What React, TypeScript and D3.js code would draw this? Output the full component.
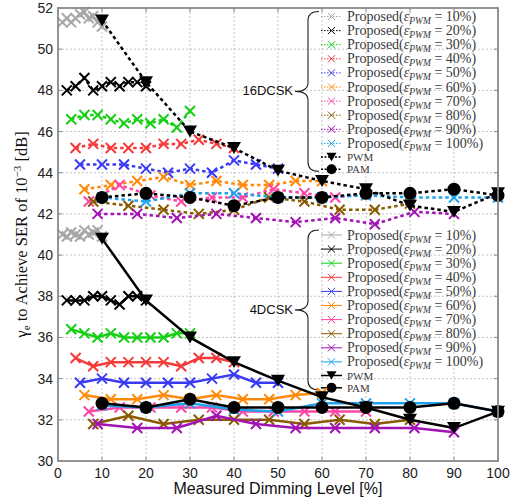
import React from 'react';
import * as d3 from 'd3';

// ε_PWM levels and the step index of each measured point (x = ε·k/10)
const epsLevels = [10, 20, 30, 40, 50, 60, 70, 80, 90, 100];
const steps = [1, 2, 3, 4, 5, 6, 7, 8, 9, 10];
const benchX = [10, 20, 30, 40, 50, 60, 70, 80, 90, 100];

const colors = ['#a8a8a8', '#000000', '#16cf16', '#f53a3a', '#3a3af5', '#ff8a0a', '#ff45a6', '#8a5a00', '#a312b5', '#1ea2ee'];

// 16DCSK (dotted)
const top10 = [51.3, 51.5, 51.3, 51.5, 51.7, 51.8, 51.5, 51.6, 51.3, 51.1];
const top20 = [48.0, 48.2, 48.6, 48.0, 48.2, 48.4, 48.2, 48.4, 48.4, 48.2];
const top30 = [46.6, 46.8, 46.8, 46.6, 46.4, 46.6, 46.4, 46.6, 46.2, 47.0];
const top40 = [45.2, 45.4, 45.2, 45.2, 45.2, 45.4, 45.4, 45.6, 45.4, 45.2];
const top50 = [44.4, 44.4, 44.4, 44.2, 44.0, 44.2, 44.0, 44.6, 44.4, 44.2];
const top60 = [43.2, 43.4, 43.6, 43.8, 43.4, 43.6, 43.4, 43.4, 43.6, 43.6];
const top70 = [42.6, 43.4, 42.9, 42.6, 42.8, 42.8, 43.2, 43.0, 42.8, 43.0];
const top80 = [42.6, 42.4, 42.2, 42.0, 42.2, 42.8, 42.6, 42.2, 42.2, 42.5];
const top90 = [42.0, 42.0, 41.8, 42.0, 41.8, 41.6, 41.8, 41.5, 42.1, 42.0];
const top100 = [42.8, 42.6, 43.0, 43.0, 42.8, 42.8, 42.9, 42.8, 42.8, 42.8];
const topPWM = [51.4, 48.4, 46.0, 45.2, 44.1, 43.6, 43.2, 42.4, 42.1, 43.0];
const topPAM = [42.8, 43.0, 42.8, 42.4, 42.8, 42.8, 43.0, 43.0, 43.2, 42.9];

// 4DCSK (solid)
const bot10 = [41.0, 40.9, 41.1, 41.0, 40.9, 41.2, 41.0, 41.1, 41.2, 40.9];
const bot20 = [37.8, 37.8, 37.8, 38.0, 38.0, 37.8, 37.6, 38.0, 38.0, 37.8];
const bot30 = [36.4, 36.2, 36.0, 36.2, 36.0, 36.0, 36.0, 36.0, 36.2, 36.2];
const bot40 = [35.0, 34.6, 34.8, 34.8, 34.8, 34.8, 34.6, 35.0, 35.0, 34.8];
const bot50 = [33.8, 34.0, 33.8, 33.8, 33.8, 33.8, 34.0, 34.2, 33.8, 33.8];
const bot60 = [33.2, 33.0, 33.0, 33.2, 33.0, 33.2, 33.0, 33.0, 33.2, 33.3];
const bot70 = [32.4, 32.6, 32.6, 32.6, 32.6, 32.4, 32.4, 32.4, 32.4, 32.4];
const bot80 = [31.8, 32.2, 31.8, 32.0, 32.0, 32.0, 31.8, 32.0, 31.8, 32.0];
const bot90 = [31.8, 31.6, 31.6, 32.2, 31.8, 31.6, 31.6, 31.6, 31.6, 31.4];
const bot100 = [32.7, 32.6, 32.8, 32.5, 32.4, 32.8, 32.8, 32.8, 32.8, 32.4];
const botPWM = [40.8, 37.8, 36.0, 34.8, 33.9, 33.1, 32.6, 32.0, 31.6, 32.4];
const botPAM = [32.8, 32.6, 33.0, 32.6, 32.6, 32.6, 32.6, 32.6, 32.8, 32.4];

const topSeries = [top10, top20, top30, top40, top50, top60, top70, top80, top90, top100];
const botSeries = [bot10, bot20, bot30, bot40, bot50, bot60, bot70, bot80, bot90, bot100];

const xTicks = [0, 10, 20, 30, 40, 50, 60, 70, 80, 90, 100];
const yTicks = [30, 32, 34, 36, 38, 40, 42, 44, 46, 48, 50, 52];

const W = 520, H = 503;
const x = d3.scaleLinear().domain([0, 100]).range([58, 498]);
const y = d3.scaleLinear().domain([30, 52]).range([461, 8]);
const line = d3.line<[number, number]>().x(d => x(d[0])).y(d => y(d[1]));

const DOT = '3.5,3';
const SERIF = 'Liberation Serif, serif';
const SANS = 'Liberation Sans, Arial, sans-serif';

const Cross = ({ cx, cy, c, s = 5, w = 2 }: any) =>
  <path d={`M${cx - s},${cy - s}L${cx + s},${cy + s}M${cx - s},${cy + s}L${cx + s},${cy - s}`} stroke={c} strokeWidth={w} />;
const Tri = ({ cx, cy, s = 7 }: any) =>
  <path d={`M${cx - s},${cy - s * 0.85}L${cx + s},${cy - s * 0.85}L${cx},${cy + s * 0.85}Z`} fill="#000" />;

function brace(xs: number, y0: number, y1: number, tipX: number) {
  const ym = (y0 + y1) / 2, w = 11, r = 9;
  return `M${xs + w},${y0} Q${xs},${y0} ${xs},${y0 + r} L${xs},${ym - r} Q${xs},${ym} ${tipX},${ym} Q${xs},${ym} ${xs},${ym + r} L${xs},${y1 - r} Q${xs},${y1} ${xs + w},${y1}`;
}

function Panel({ series, pwm, pam, dash }: any) {
  return (
    <g>
      {series.map((vals: number[], i: number) => {
        const pts: [number, number][] = vals.map((v, k) => [epsLevels[i] * steps[k] / 10, v]);
        return (
          <g key={i}>
            <path d={line(pts) || ''} fill="none" stroke={colors[i]} strokeWidth={2.5} strokeDasharray={dash} />
            {pts.map((p, k) => <Cross key={k} cx={x(p[0])} cy={y(p[1])} c={colors[i]} />)}
          </g>
        );
      })}
      <path d={line(benchX.map((b, k) => [b, pwm[k]] as [number, number])) || ''} fill="none" stroke="#000" strokeWidth={2.5} strokeDasharray={dash} />
      {benchX.map((b, k) => <Tri key={k} cx={x(b)} cy={y(pwm[k])} />)}
      <path d={line(benchX.map((b, k) => [b, pam[k]] as [number, number])) || ''} fill="none" stroke="#000" strokeWidth={2.5} strokeDasharray={dash} />
      {benchX.map((b, k) => <circle key={k} cx={x(b)} cy={y(pam[k])} r={6.5} fill="#000" />)}
    </g>
  );
}

function Legend({ y0, dash, label, labelY }: any) {
  const rows = epsLevels.map((_, i) => y0 + i * 14.1);
  const pwmY = rows[9] + 13.6;
  const pamY = pwmY + 12.3;
  return (
    <g>
      <text x={293} y={labelY} textAnchor="end" fontFamily={SANS} fontSize={13} fill="#111">{label}</text>
      <path d={brace(308, y0 - 5, pamY + 2, 295)} fill="none" stroke="#222" strokeWidth={1.1} />
      {epsLevels.map((e, i) => (
        <g key={e}>
          <line x1={321} x2={342} y1={rows[i]} y2={rows[i]} stroke={colors[i]} strokeWidth={1} strokeDasharray={dash ? '1.5,1.5' : undefined} />
          <Cross cx={331.5} cy={rows[i]} c={colors[i]} s={3.6} w={1} />
          <text x={347} y={rows[i] + 4.5} fontFamily={SERIF} fontSize={14} fill="#3a3a3a">
            Proposed(<tspan fontStyle="italic">ε</tspan><tspan fontStyle="italic" fontSize={9.5} dy={3}>PWM</tspan><tspan dy={-3}>{' = '}{e}%)</tspan>
          </text>
        </g>
      ))}
      <line x1={321} x2={342} y1={pwmY} y2={pwmY} stroke="#000" strokeWidth={1.5} strokeDasharray={dash ? '2,1.5' : undefined} />
      <Tri cx={331.5} cy={pwmY} s={5} />
      <text x={347} y={pwmY + 4} fontFamily={SERIF} fontSize={11} fill="#3a3a3a">PWM</text>
      <line x1={321} x2={342} y1={pamY} y2={pamY} stroke="#000" strokeWidth={1.5} strokeDasharray={dash ? '2,1.5' : undefined} />
      <circle cx={331.5} cy={pamY} r={5} fill="#000" />
      <text x={347} y={pamY + 4} fontFamily={SERIF} fontSize={11} fill="#3a3a3a">PAM</text>
    </g>
  );
}

export default function App() {
  const [x0, x1] = x.range();
  const [yb, yt] = y.range();
  return (
    <svg width={W} height={H} style={{ position: 'absolute', left: 0, top: 0, background: '#fff' }}>
      {/* grid */}
      {xTicks.slice(1, -1).map(t => <line key={'gx' + t} x1={x(t)} x2={x(t)} y1={yt} y2={yb} stroke="#b5b5b5" strokeWidth={0.8} strokeDasharray="2,2" />)}
      {yTicks.slice(1, -1).map(t => <line key={'gy' + t} x1={x0} x2={x1} y1={y(t)} y2={y(t)} stroke="#b5b5b5" strokeWidth={0.8} strokeDasharray="2,2" />)}
      {/* ticks */}
      {xTicks.map(t => <g key={'tx' + t}>
        <line x1={x(t)} x2={x(t)} y1={yb} y2={yb - 4} stroke="#888" strokeWidth={1} />
        <line x1={x(t)} x2={x(t)} y1={yt} y2={yt + 4} stroke="#888" strokeWidth={1} />
        <text x={x(t)} y={478} textAnchor="middle" fontFamily={SANS} fontSize={14} fill="#222">{t}</text>
      </g>)}
      {yTicks.map(t => <g key={'ty' + t}>
        <line x1={x0} x2={x0 + 4} y1={y(t)} y2={y(t)} stroke="#888" strokeWidth={1} />
        <line x1={x1} x2={x1 - 4} y1={y(t)} y2={y(t)} stroke="#888" strokeWidth={1} />
        <text x={53} y={y(t) + 5} textAnchor="end" fontFamily={SANS} fontSize={14} fill="#222">{t}</text>
      </g>)}

      <Legend y0={16.5} dash label="16DCSK" labelY={95} />
      <Legend y0={235} dash={false} label="4DCSK" labelY={314} />

      <Panel series={topSeries} pwm={topPWM} pam={topPAM} dash={DOT} />
      <Panel series={botSeries} pwm={botPWM} pam={botPAM} />

      <rect x={x0} y={yt} width={x1 - x0} height={yb - yt} fill="none" stroke="#8a8a8a" strokeWidth={1.8} />

      <text x={278} y={494} textAnchor="middle" fontFamily={SANS} fontSize={16} fill="#111">Measured Dimming Level [%]</text>
      <text transform={`translate(27,${(yt + yb) / 2}) rotate(-90)`} textAnchor="middle" fontFamily={SERIF} fontSize={16.5} fill="#111">
        γ<tspan fontSize={11} dy={3}>e</tspan><tspan dy={-3}> to Achieve SER of 10</tspan><tspan fontSize={11} dy={-6}>−3</tspan><tspan dy={6}> [dB]</tspan>
      </text>
    </svg>
  );
}
